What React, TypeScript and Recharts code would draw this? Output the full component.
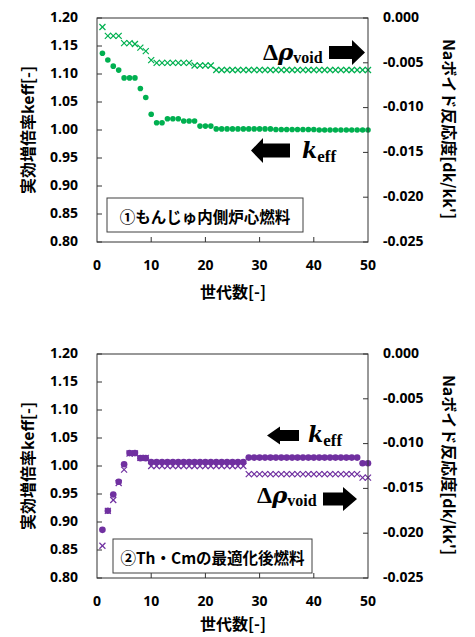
import React from "react"
import { ComposedChart, Line, XAxis, YAxis } from "recharts"

// generation numbers (x categories)
const gens = Array.from({ length: 50 }, (_, i) => i + 1)

// ① Monju inner core fuel
const monjuKeff = [
  1.137, 1.125, 1.114, 1.107, 1.093, 1.093, 1.093, 1.074, 1.058, 1.028,
  1.013, 1.013, 1.02, 1.02, 1.02, 1.016, 1.016, 1.016, 1.007, 1.007,
  1.007, 1.002, 1.002, 1.002, 1.002, 1.002, 1.002, 1.002, 1.002, 1.002,
  1.002, 1.002, 1.001, 1.001, 1.001, 1.001, 1.001, 1.001, 1.001, 1.001,
  1.0, 1.0, 1.0, 1.0, 1.0, 1.0, 1.0, 1.0, 1.0, 1.0,
]
const monjuVoid = [
  -0.001, -0.002, -0.002, -0.002, -0.0028, -0.0028, -0.0029, -0.0033, -0.0037, -0.0047,
  -0.005, -0.005, -0.005, -0.005, -0.005, -0.005, -0.005, -0.0053, -0.0053, -0.0053,
  -0.0053, -0.0058, -0.0058, -0.0058, -0.0058, -0.0058, -0.0058, -0.0058, -0.0058, -0.0058,
  -0.0058, -0.0058, -0.0058, -0.0058, -0.0058, -0.0058, -0.0058, -0.0058, -0.0058, -0.0058,
  -0.0058, -0.0058, -0.0058, -0.0058, -0.0058, -0.0058, -0.0058, -0.0058, -0.0058, -0.0058,
]

// ② Th・Cm optimized fuel
const thcmKeff = [
  0.886, 0.92, 0.949, 0.972, 1.003, 1.023, 1.023, 1.014, 1.014, 1.007,
  1.007, 1.007, 1.007, 1.007, 1.007, 1.007, 1.007, 1.007, 1.007, 1.007,
  1.007, 1.007, 1.007, 1.007, 1.007, 1.007, 1.007, 1.015, 1.015, 1.015,
  1.015, 1.015, 1.015, 1.015, 1.015, 1.015, 1.015, 1.015, 1.015, 1.015,
  1.015, 1.015, 1.015, 1.015, 1.015, 1.015, 1.015, 1.015, 1.005, 1.005,
]
const thcmVoid = [
  -0.0214, -0.0175, -0.0163, -0.0144, -0.0129, -0.0111, -0.0111, -0.0116, -0.0116, -0.0125,
  -0.0125, -0.0125, -0.0125, -0.0125, -0.0125, -0.0125, -0.0125, -0.0125, -0.0125, -0.0125,
  -0.0125, -0.0125, -0.0125, -0.0125, -0.0125, -0.0125, -0.0125, -0.0134, -0.0134, -0.0134,
  -0.0134, -0.0134, -0.0134, -0.0134, -0.0134, -0.0134, -0.0134, -0.0134, -0.0134, -0.0134,
  -0.0134, -0.0134, -0.0134, -0.0134, -0.0134, -0.0134, -0.0134, -0.0134, -0.0138, -0.0138,
]

const xTicks = [0, 10, 20, 30, 40, 50]
const keffTicks = [0.8, 0.85, 0.9, 0.95, 1.0, 1.05, 1.1, 1.15, 1.2]
const voidTicks = [-0.025, -0.02, -0.015, -0.01, -0.005, 0]

const AXIS = "#333"
const NUM_FONT = "'Open Sans', sans-serif"
const JP_FONT = "'Noto Sans CJK JP', sans-serif"

const XTick = ({ x, y, payload }: any) => (
  <g>
    {payload.value > 0 && payload.value < 50 && (
      <line x1={x} x2={x} y1={y} y2={y - 5} stroke={AXIS} />
    )}
    <text x={x} y={y + 24} textAnchor="middle" dominantBaseline="middle"
      fontFamily={NUM_FONT} fontWeight="bold" fontSize={14} fill="#000">
      {payload.value}
    </text>
  </g>
)

const LeftTick = ({ x, y, payload }: any) => (
  <g>
    <line x1={x} x2={x + 5} y1={y} y2={y} stroke={AXIS} />
    <text x={x - 19} y={y} textAnchor="end" dominantBaseline="middle"
      fontFamily={NUM_FONT} fontWeight="bold" fontSize={14} fill="#000">
      {payload.value.toFixed(2)}
    </text>
  </g>
)

const RightTick = ({ x, y, payload }: any) => (
  <g>
    <line x1={x} x2={x - 5} y1={y} y2={y} stroke={AXIS} />
    <text x={x + 15} y={y} textAnchor="start" dominantBaseline="middle"
      fontFamily={NUM_FONT} fontWeight="bold" fontSize={14} fill="#000">
      {Math.abs(payload.value) < 1e-9 ? "0.000" : payload.value.toFixed(3)}
    </text>
  </g>
)

const circleDot = (color: string, r: number) => (p: any) =>
  <circle key={p.index} cx={p.cx} cy={p.cy} r={r} fill={color} />

const crossDot = (color: string, s: number) => (p: any) => (
  <g key={p.index} stroke={color} strokeWidth={1.2}>
    <line x1={p.cx - s} y1={p.cy - s} x2={p.cx + s} y2={p.cy + s} />
    <line x1={p.cx - s} y1={p.cy + s} x2={p.cx + s} y2={p.cy - s} />
  </g>
)

function Panel({ keff, dvoid, color, r }: { keff: number[]; dvoid: number[]; color: string; r: number }) {
  const data = gens.map((g, i) => ({ gen: g, keff: keff[i], dvoid: dvoid[i] }))
  return (
    <ComposedChart width={475} height={301} data={data}
      margin={{ top: 18, right: 0, bottom: 0, left: 0 }}>
      <XAxis dataKey="gen" type="number" domain={[0, 50]} ticks={xTicks} height={59}
        axisLine={false} tickLine={false} tickSize={0} tickMargin={0} tick={<XTick />} interval={0} />
      <YAxis yAxisId="left" domain={[0.8, 1.2]} ticks={keffTicks} width={97}
        axisLine={false} tickLine={false} tickSize={0} tickMargin={0} tick={<LeftTick />} interval={0} />
      <YAxis yAxisId="right" orientation="right" domain={[-0.025, 0]} ticks={voidTicks} width={107}
        axisLine={false} tickLine={false} tickSize={0} tickMargin={0} tick={<RightTick />} interval={0} />
      <Line yAxisId="right" dataKey="dvoid" stroke="none" dot={crossDot(color, 3)}
        activeDot={false} isAnimationActive={false} />
      <Line yAxisId="left" dataKey="keff" stroke="none" dot={circleDot(color, r)}
        activeDot={false} isAnimationActive={false} />
    </ComposedChart>
  )
}

const titleStyle = { fontFamily: JP_FONT, fontWeight: 700, fontSize: 16, fill: "#000" } as const
const mathFont = "'DejaVu Serif', serif"
const subFont = "'Liberation Serif', serif"

function Overlay() {
  return (
    <svg width={475} height={637} style={{ position: "absolute", left: 0, top: 0, pointerEvents: "none" }}>
      {[18, 354].map((top, i) => (
        <g key={top}>
          <rect x={97} y={top} width={271} height={224} fill="none" stroke={AXIS} strokeWidth={1} />
          <text x={27} y={top + 112} textAnchor="middle" dominantBaseline="central"
            transform={`rotate(-90 27 ${top + 112})`} {...titleStyle}>実効増倍率keff[-]</text>
          <text x={450} y={top + 111} textAnchor="middle" dominantBaseline="central"
            transform={`rotate(90 450 ${top + 111})`} {...titleStyle}>Naボイド反応度[dk/kk']</text>
          <text x={233} y={top + (i === 0 ? 273 : 269)} textAnchor="middle" dominantBaseline="central"
            {...titleStyle}>世代数[-]</text>
        </g>
      ))}

      {/* panel ① */}
      <rect x={107} y={198} width={196} height={34} fill="#fff" stroke="#404040" />
      <text x={205} y={215.5} textAnchor="middle" dominantBaseline="central"
        fontFamily={JP_FONT} fontWeight={700} fontSize={15.5}>①もんじゅ内側炉心燃料</text>
      <text x={263} y={60} fontWeight="bold">
        <tspan fontFamily={subFont} fontSize={24}>Δ</tspan>
        <tspan fontFamily={mathFont} fontStyle="italic" fontSize={23}>ρ</tspan>
        <tspan fontFamily={subFont} fontSize={16} dy={3}>void</tspan>
      </text>
      <polygon points="329,46 352,46 352,40 365,52.5 352,65 352,59 329,59" fill="#000" />
      <polygon points="290,143.5 263,143.5 263,138 251,150.5 263,163 263,157.5 290,157.5" fill="#000" />
      <text x={302} y={158} fontWeight="bold">
        <tspan fontFamily={mathFont} fontStyle="italic" fontSize={22}>k</tspan>
        <tspan fontFamily={subFont} fontSize={17} dy={4}>eff</tspan>
      </text>

      {/* panel ② */}
      <rect x={113} y={539} width={199} height={34} fill="#fff" stroke="#404040" />
      <text x={212.5} y={556.5} textAnchor="middle" dominantBaseline="central"
        fontFamily={JP_FONT} fontWeight={700} fontSize={15.5}>②Th・Cmの最適化後燃料</text>
      <polygon points="299,430 280,430 280,426.5 267,435.5 280,444.5 280,441 299,441" fill="#000" />
      <text x={308} y={442} fontWeight="bold">
        <tspan fontFamily={mathFont} fontStyle="italic" fontSize={22}>k</tspan>
        <tspan fontFamily={subFont} fontSize={17} dy={4}>eff</tspan>
      </text>
      <text x={257} y={503} fontWeight="bold">
        <tspan fontFamily={subFont} fontSize={24}>Δ</tspan>
        <tspan fontFamily={mathFont} fontStyle="italic" fontSize={23}>ρ</tspan>
        <tspan fontFamily={subFont} fontSize={16} dy={3}>void</tspan>
      </text>
      <polygon points="323,492.5 343,492.5 343,487 357,499 343,511 343,505.5 323,505.5" fill="#000" />
    </svg>
  )
}

export default function App() {
  return (
    <div style={{ position: "absolute", left: 0, top: 0, width: 475, height: 637, background: "#fff", overflow: "hidden" }}>
      <div style={{ position: "absolute", left: 0, top: 0 }}>
        <Panel keff={monjuKeff} dvoid={monjuVoid} color="#00B050" r={2.8} />
      </div>
      <div style={{ position: "absolute", left: 0, top: 336 }}>
        <Panel keff={thcmKeff} dvoid={thcmVoid} color="#7030A0" r={3.3} />
      </div>
      <Overlay />
    </div>
  )
}
